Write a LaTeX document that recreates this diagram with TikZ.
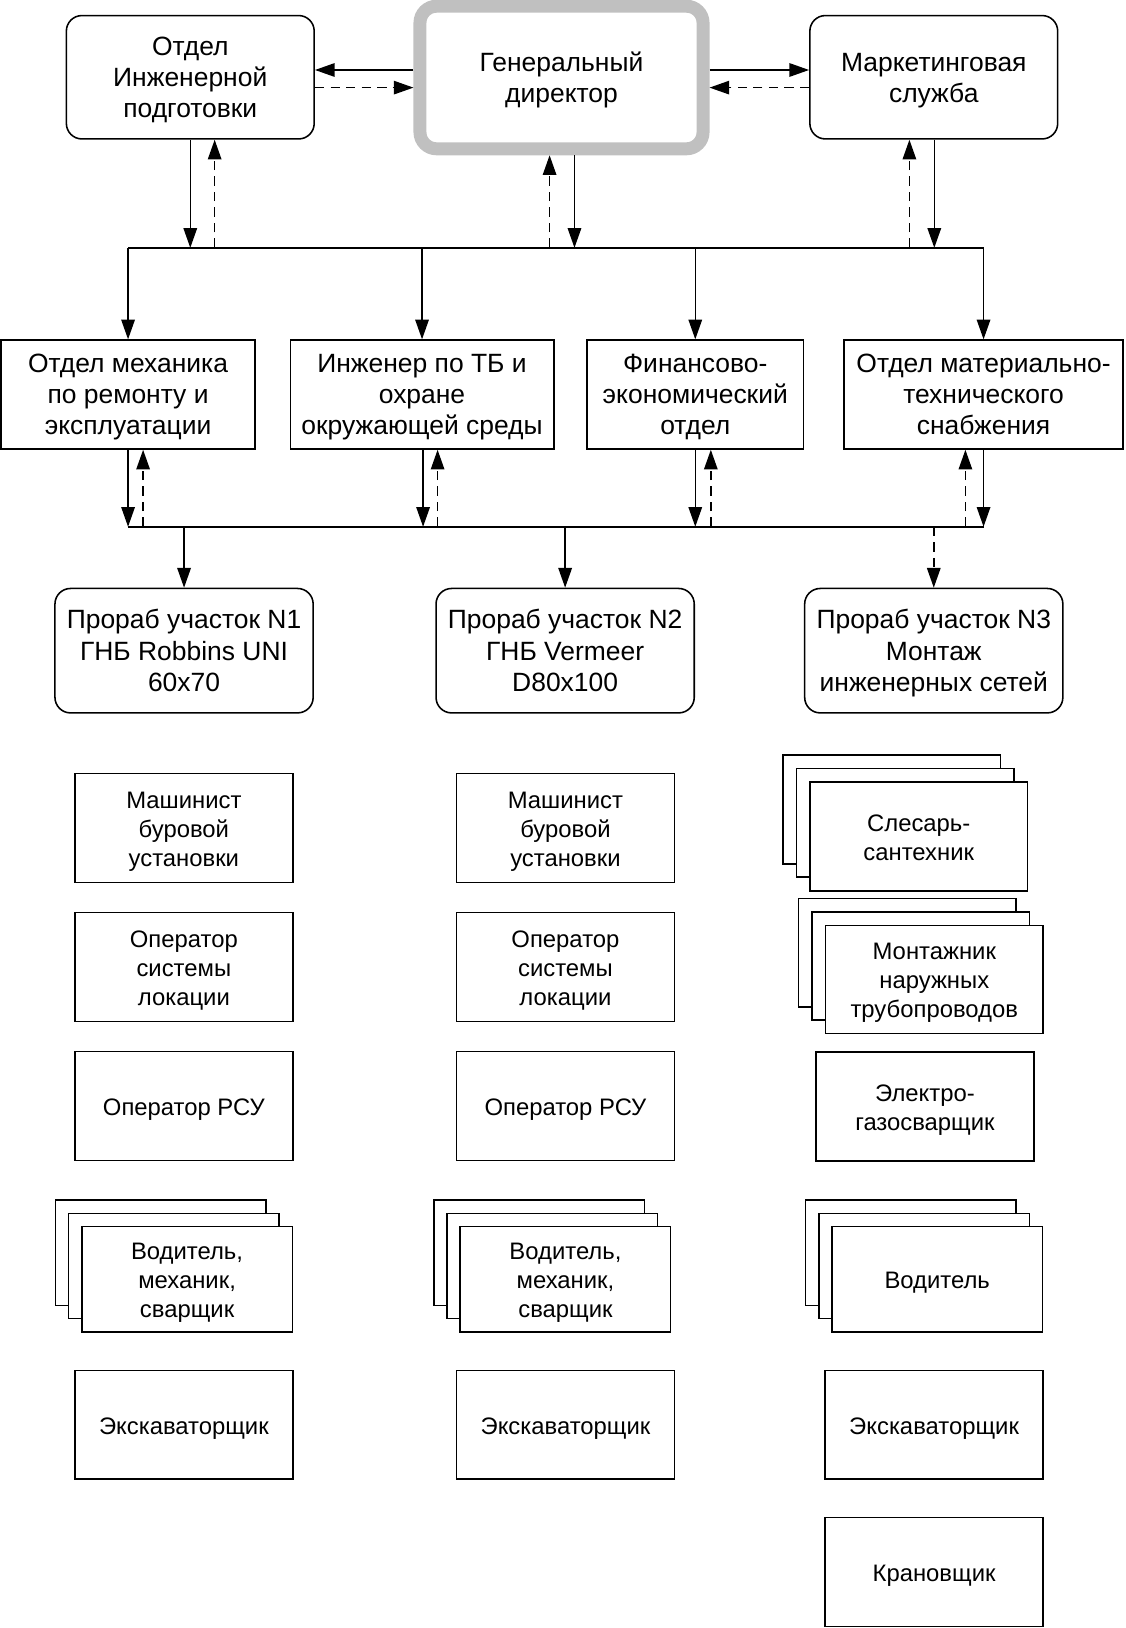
\documentclass[tikz,border=0pt]{standalone}
\usepackage{fontspec}
\setmainfont{Liberation Sans}
\usetikzlibrary{arrows.meta,calc}
\definecolor{gdgray}{RGB}{192,192,192}
\newcommand{\txr}{0pt}
\newcommand{\tx}[1]{\raisebox{\txr}[\height][\depth]{\begin{tabular}{@{}c@{}}#1\end{tabular}}}
\begin{document}
\begin{tikzpicture}[x=1pt,y=-1pt,
  every node/.style={inner sep=0pt},
  big/.style={font=\fontsize{25.5}{30}\selectfont\renewcommand{\txr}{-3pt}},
  small/.style={font=\fontsize{23}{28}\selectfont\renewcommand{\txr}{-3.5pt}},
  rbox/.style={draw, line width=1.5pt, rounded corners=15pt, big, minimum width=239pt, minimum height=119pt},
  dept/.style={draw, line width=1.5pt, big, minimum height=105pt},
  wbox/.style={draw, line width=1.5pt, fill=white, small, minimum width=210pt, minimum height=105pt},
  stk/.style={draw, line width=1.5pt, fill=white, small, minimum width=203pt, minimum height=101.4pt},
  con/.style={line width=1.5pt, -{Triangle[length=19pt,width=13pt]}},
  dcon/.style={con, dash pattern=on 9pt off 6pt},
  busline/.style={line width=1.5pt}]
\useasboundingbox (0,0) rectangle (1085,1570);

% top row
\node[rbox] (oip) at (183.5,74.5) {\tx{Отдел\\Инженерной\\подготовки}};
\node[draw=gdgray, line width=12.5pt, rounded corners=16pt, big, minimum width=273pt, minimum height=137.5pt] (gd) at (541.5,74.75) {\tx{Генеральный\\директор}};
\node[rbox] (ms) at (900.5,74.5) {\tx{Маркетинговая\\служба}};

\coordinate (ya) at (0,67.5);
\coordinate (yb) at (0,84.5);
\draw[con] (gd.west |- ya) -- (oip.east |- ya);
\draw[dcon] (oip.east |- yb) -- (gd.west |- yb);
\draw[con] (gd.east |- ya) -- (ms.west |- ya);
\draw[dcon] (ms.west |- yb) -- (gd.east |- yb);

% second row
\node[dept, minimum width=245pt] (om) at (123.5,380.5) {\tx{Отдел механика\\по ремонту и\\эксплуатации}};
\node[dept, minimum width=254pt] (itb) at (407,380.5) {\tx{Инженер по ТБ и\\охране\\окружающей среды}};
\node[dept, minimum width=209pt] (fin) at (670.5,380.5) {\tx{Финансово-\\экономический\\отдел}};
\node[dept, minimum width=269pt] (mts) at (948.5,380.5) {\tx{Отдел материально-\\технического\\снабжения}};

% bus 1
\coordinate (b1) at (0,239);
\draw[busline] (om.north |- b1) -- (mts.north |- b1);
\draw[con] (oip.south) -- (oip.south |- b1);
\draw[dcon] ($(oip.south |- b1)+(23.5,0)$) -- ($(oip.south)+(23.5,0)$);
\draw[dcon] ($(gd.south |- b1)+(-11.5,0)$) -- ($(gd.south)+(-11.5,0)$);
\draw[con] ($(gd.south)+(12.5,0)$) -- ($(gd.south |- b1)+(12.5,0)$);
\draw[dcon] ($(ms.south |- b1)+(-23.5,0)$) -- ($(ms.south)+(-23.5,0)$);
\draw[con] ($(ms.south)+(0.5,0)$) -- ($(ms.south |- b1)+(0.5,0)$);
\foreach \n in {om,itb,fin,mts} \draw[con] (\n.north |- b1) -- (\n.north);

% bus 2
\coordinate (b2) at (0,508);
\draw[busline] (om.south |- b2) -- (mts.south |- b2);
\draw[con] (om.south) -- (om.south |- b2);
\draw[dcon] ($(om.south |- b2)+(14.5,0)$) -- ($(om.south)+(14.5,0)$);
\draw[con] ($(itb.south)+(1,0)$) -- ($(itb.south |- b2)+(1,0)$);
\draw[dcon] ($(itb.south |- b2)+(15,0)$) -- ($(itb.south)+(15,0)$);
\draw[con] (fin.south) -- (fin.south |- b2);
\draw[dcon] ($(fin.south |- b2)+(15,0)$) -- ($(fin.south)+(15,0)$);
\draw[dcon] ($(mts.south |- b2)+(-17.5,0)$) -- ($(mts.south)+(-17.5,0)$);
\draw[con] (mts.south) -- (mts.south |- b2);

% foremen
\node[rbox, minimum width=249pt, minimum height=120pt] (p1) at (177.5,627.5) {\tx{Прораб участок N1\\ГНБ Robbins UNI\\60x70}};
\node[rbox, minimum width=249pt, minimum height=120pt] (p2) at (545,627.5) {\tx{Прораб участок N2\\ГНБ Vermeer\\D80x100}};
\node[rbox, minimum width=249pt, minimum height=120pt] (p3) at (900.5,627.5) {\tx{Прораб участок N3\\Монтаж\\инженерных сетей}};
\draw[con] (p1.north |- b2) -- (p1.north);
\draw[con] (p2.north |- b2) -- (p2.north);
\draw[dcon] (p3.north |- b2) -- (p3.north);

% column 1
\node[wbox] (m1) at (177.3,798.5) {\tx{Машинист\\буровой\\установки}};
\node[wbox] (o1) at (177.3,932.5) {\tx{Оператор\\системы\\локации}};
\node[wbox] (r1) at (177.3,1066.5) {\tx{Оператор РСУ}};
\node[stk] (v1a) at (155,1208.2) {};
\node[stk] (v1b) at (167.7,1221) {};
\node[stk] (v1) at (180.4,1233.7) {\tx{Водитель,\\механик,\\сварщик}};
\node[wbox] (e1) at (177.3,1374) {\tx{Экскаваторщик}};

% column 2
\node[wbox] (m2) at (545.3,798.5) {\tx{Машинист\\буровой\\установки}};
\node[wbox] (o2) at (545.3,932.5) {\tx{Оператор\\системы\\локации}};
\node[wbox] (r2) at (545.3,1066.5) {\tx{Оператор РСУ}};
\node[stk] (v2a) at (520,1208.2) {};
\node[stk] (v2b) at (532.6,1221) {};
\node[stk] (v2) at (545.3,1233.7) {\tx{Водитель,\\механик,\\сварщик}};
\node[wbox] (e2) at (545.3,1374) {\tx{Экскаваторщик}};

% column 3
\node[wbox] (s3a) at (860,780.5) {};
\node[wbox] (s3b) at (873,793.5) {};
\node[wbox] (s3) at (886,806.5) {\tx{Слесарь-\\сантехник}};
\node[wbox, minimum height=104.5pt] (t3a) at (875,918.6) {};
\node[wbox, minimum height=104.5pt] (t3b) at (888,931.6) {};
\node[wbox, minimum height=104.5pt] (t3) at (901,944.6) {\tx{Монтажник\\наружных\\трубопроводов}};
\node[wbox] (g3) at (892,1067) {\tx{Электро-\\газосварщик}};
\node[stk] (v3a) at (878.4,1208.2) {};
\node[stk] (v3b) at (891.1,1221) {};
\node[stk] (v3) at (903.8,1233.7) {\tx{Водитель}};
\node[wbox] (e3) at (900.8,1374) {\tx{Экскаваторщик}};
\node[wbox] (k3) at (900.8,1516) {\tx{Крановщик}};
\end{tikzpicture}
\end{document}
